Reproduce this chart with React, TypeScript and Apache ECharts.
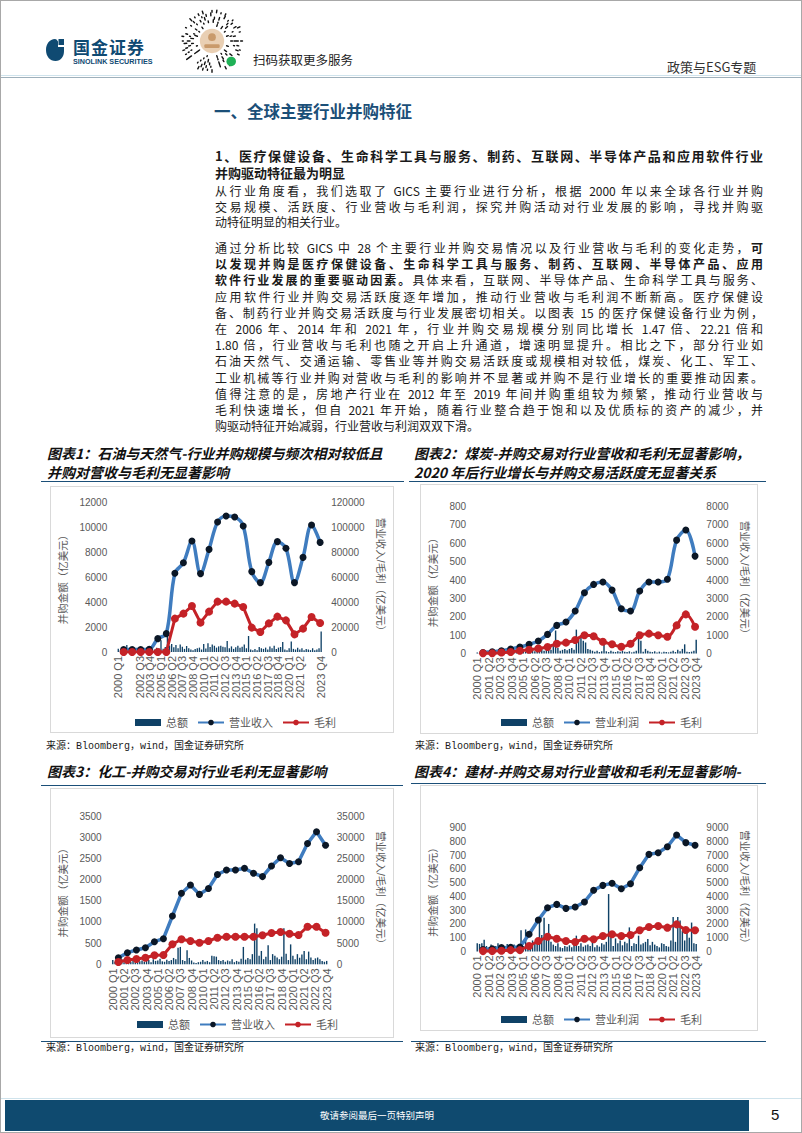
import React, { useEffect, useRef } from "react";
import * as echarts from "echarts";

// ---------------- DATA ----------------
const years = ["2000","2001","2002","2003","2004","2005","2006","2007","2008","2009","2010","2011","2012","2013","2014","2015","2016","2017","2018","2019","2020","2021","2022","2023"];
const quarterSuffix = ["Q1", "Q2", "Q3", "Q4"];
const quarters: string[] = years.flatMap((y) => quarterSuffix.map((q) => `${y} ${q}`));

const legendTotal = "总额";
const legendGross = "毛利";
const leftAxisName = "并购金额（亿美元）";
const rightAxisName = "营业收入/毛利（亿美元）";

// Chart 1: 石油与天然气
const oilTotal = [
  270,150,120,180, 560,200,150,220, 180,140,250,160, 200,300,160,250,
  280,200,350,300, 950,260,400,1450, 520,640,380,560, 300,600,420,250,
  480,300,200,150, 250,300,350,200, 650,280,700,400, 600,500,350,450,
  500,420,380,880, 300,450,250,380, 500,350,420,600, 300,1280,200,150,
  250,150,400,300, 250,350,200,450, 300,500,250,350, 400,800,200,150,
  300,850,250,200, 350,200,300,150, 250,200,150,300, 150,200,300,1650,
];
const oilRevenue = [2000,2000,2000,2200,10700,14700,63000,71400,88800,62700,82100,104000,108800,108000,100800,64300,55500,71700,88300,83000,55500,75700,101600,87700];
const oilGross = [0,0,0,0,0,0,26700,30700,36800,23500,32300,40300,40300,38700,36000,19500,16000,22900,28300,25300,14100,18700,28000,23200];

// Chart 2: 煤炭
const coalTotal = [
  5,3,8,4, 6,10,4,8, 15,5,10,8, 12,20,10,15,
  10,15,20,12, 18,10,25,15, 20,12,30,18, 25,15,35,28,
  20,40,125,30, 15,20,25,18, 25,30,20,130, 90,100,70,60,
  25,20,15,10, 15,8,12,50, 12,8,15,10, 8,12,10,15,
  10,8,12,6, 10,15,120,70, 10,25,15,10, 8,12,6,10,
  5,10,8,6, 10,15,8,20, 12,25,50,10, 8,10,15,75,
];
const coalProfit = [50,100,150,245,354,500,680,1040,1530,1710,2310,3310,3760,3890,3450,2440,2310,3400,3890,3890,4040,6170,6720,5300];
const coalGross = [10,10,50,80,150,200,270,354,535,590,735,990,935,640,500,370,535,990,1080,990,915,1530,2130,1460];

// Chart 3: 化工
const chemTotal = [
  100,60,80,50, 120,50,70,90, 60,80,50,110, 70,90,60,80,
  100,50,120,80, 90,130,70,60, 110,80,100,150, 120,390,410,100,
  80,330,150,90, 40,30,50,60, 100,60,80,50, 200,190,180,100,
  80,100,60,90, 70,120,50,80, 60,130,410,110, 150,120,240,960,
  850,200,315,120, 180,450,100,240, 200,160,120,180, 850,250,100,470,
  200,120,240,155, 230,315,120,300, 160,100,140,160, 120,80,60,80,
];
const chemRevenue = [1560,2740,3380,3920,5340,6050,11400,16760,18700,16500,17900,21200,22250,22250,22650,21500,20700,23200,25150,23800,24200,28500,31300,28100];
const chemGross = [540,1010,1250,1560,2120,2200,4720,5900,5500,5100,5500,6280,6510,6510,6510,6510,6840,7390,7620,7220,6910,8870,8870,7460];

// Chart 4: 建材
const buildTotal = [
  60,55,60,85, 40,30,50,25, 40,60,35,45, 40,55,40,30,
  50,40,35,155, 40,160,30,50, 80,60,100,240, 120,245,90,200,
  70,50,40,60, 30,25,40,35, 45,30,50,115, 40,60,35,45,
  50,40,80,30, 45,35,60,50, 70,417,100,40, 95,60,80,45,
  70,60,175,40, 60,55,115,50, 60,70,90,45, 70,50,40,30,
  60,55,40,35, 80,250,70,250, 225,150,80,157, 100,210,60,55,
];
const buildProfit = [150,200,280,300,330,1250,2290,3180,3420,3130,3230,3590,4440,4800,4950,4560,4920,6080,7050,7170,7600,8460,7900,7710];
const buildGross = [30,30,50,100,100,400,760,1070,930,760,690,930,885,1125,1250,1125,1200,1540,1780,1850,1730,1970,1560,1540];

// ---------------- STYLE ----------------
const FONT_CJK = "'Noto Sans CJK SC', 'Noto Sans', sans-serif";
const FONT_CHART = "'Liberation Sans', Arial, 'Noto Sans CJK SC', sans-serif";
const BAR = "#0f4166";
const BLUE = "#3f7cbf";
const DOT = "#0b1726";
const RED = "#c42227";
const AXIS_TXT = "#595959";
const NAVY = "#1b4f78";

type Spec = {
  box: [number, number, number, number];
  grid: [number, number, number, number];
  leftMax: number; leftInterval: number; rightMax: number; rightInterval: number;
  total: number[]; line: number[]; gross: number[]; lineName: string;
  smoothLine: number | boolean; smoothGross: number | boolean;
  legendLeft: number; legendTop: number;
  leftNameGap: number; rightNameGap: number;
};

const plain = (v: number) => String(v);

function buildOption(s: Spec): any {
  const axisCommon = {
    splitLine: { show: false },
    axisLine: { show: false },
    axisTick: { show: false },
  };
  return {
    animation: false,
    textStyle: { fontFamily: FONT_CHART },
    grid: { left: s.grid[0], top: s.grid[1], width: s.grid[2], height: s.grid[3], containLabel: false },
    legend: {
      left: s.legendLeft,
      top: s.legendTop,
      itemWidth: 26,
      itemHeight: 7,
      itemGap: 9,
      textStyle: { fontSize: 11, color: AXIS_TXT, fontFamily: FONT_CHART },
      data: [{ name: legendTotal, icon: "rect" }, s.lineName, legendGross],
    },
    xAxis: [
      {
        type: "category",
        data: quarters,
        boundaryGap: true,
        axisLine: { show: false },
        axisTick: { show: false },
        axisLabel: { interval: 4, rotate: 90, fontSize: 11, color: AXIS_TXT, margin: 4, showMinLabel: true, showMaxLabel: true, hideOverlap: false },
      },
      { type: "value", min: -0.75, max: 23.25, show: false },
    ],
    yAxis: [
      {
        type: "value",
        min: 0,
        max: s.leftMax,
        interval: s.leftInterval,
        name: leftAxisName,
        nameLocation: "middle",
        nameGap: s.leftNameGap,
        nameRotate: 90,
        nameTextStyle: { fontSize: 10.5, color: AXIS_TXT },
        axisLabel: { fontSize: 10, color: AXIS_TXT, margin: 10, formatter: plain },
        ...axisCommon,
      },
      {
        type: "value",
        position: "right",
        min: 0,
        max: s.rightMax,
        interval: s.rightInterval,
        name: rightAxisName,
        nameLocation: "middle",
        nameGap: s.rightNameGap,
        nameRotate: -90,
        nameTextStyle: { fontSize: 10.5, color: AXIS_TXT },
        axisLabel: { fontSize: 10, color: AXIS_TXT, margin: 9, formatter: plain },
        ...axisCommon,
      },
    ],
    series: [
      {
        name: legendTotal,
        type: "bar",
        xAxisIndex: 0,
        yAxisIndex: 0,
        data: s.total,
        barWidth: "62%",
        itemStyle: { color: BAR },
        z: 1,
      },
      {
        name: s.lineName,
        type: "line",
        xAxisIndex: 1,
        yAxisIndex: 1,
        data: s.line.map((v, i) => [i, v]),
        smooth: s.smoothLine,
        symbol: "circle",
        symbolSize: 7,
        lineStyle: { width: 3.5, color: BLUE },
        itemStyle: { color: DOT },
        z: 3,
      },
      {
        name: legendGross,
        type: "line",
        xAxisIndex: 1,
        yAxisIndex: 1,
        data: s.gross.map((v, i) => [i, v]),
        smooth: s.smoothGross,
        symbol: "circle",
        symbolSize: 8,
        lineStyle: { width: 3, color: RED },
        itemStyle: { color: RED },
        z: 4,
      },
    ],
  };
}

const specs: Spec[] = [
  {
    box: [49, 485, 344, 247],
    grid: [52, 16, 236, 150],
    leftMax: 12000, leftInterval: 2000, rightMax: 120000, rightInterval: 20000,
    total: oilTotal, line: oilRevenue, gross: oilGross, lineName: "营业收入",
    smoothLine: 0.35, smoothGross: false,
    legendLeft: 80, legendTop: 226, leftNameGap: 37, rightNameGap: 42,
  },
  {
    box: [419, 483, 338, 250],
    grid: [47, 22.5, 236.5, 147],
    leftMax: 800, leftInterval: 100, rightMax: 8000, rightInterval: 1000,
    total: coalTotal, line: coalProfit, gross: coalGross, lineName: "营业利润",
    smoothLine: 0.35, smoothGross: 0.35,
    legendLeft: 76, legendTop: 228, leftNameGap: 30, rightNameGap: 34,
  },
  {
    box: [49, 787, 344, 250],
    grid: [50.5, 28, 243.5, 148.3],
    leftMax: 3500, leftInterval: 500, rightMax: 35000, rightInterval: 5000,
    total: chemTotal, line: chemRevenue, gross: chemGross, lineName: "营业收入",
    smoothLine: false, smoothGross: false,
    legendLeft: 82, legendTop: 226, leftNameGap: 33, rightNameGap: 38,
  },
  {
    box: [419, 784, 338, 246],
    grid: [51.5, 42.5, 232.5, 124],
    leftMax: 900, leftInterval: 100, rightMax: 9000, rightInterval: 1000,
    total: buildTotal, line: buildProfit, gross: buildGross, lineName: "营业利润",
    smoothLine: false, smoothGross: false,
    legendLeft: 76, legendTop: 224, leftNameGap: 34, rightNameGap: 36,
  },
];

function Chart({ spec }: { spec: Spec }) {
  const ref = useRef<HTMLDivElement>(null);
  useEffect(() => {
    if (!ref.current) return;
    const chart = echarts.init(ref.current, undefined, { renderer: "svg" });
    chart.setOption(buildOption(spec));
    return () => chart.dispose();
  }, [spec]);
  const [l, t, w, h] = spec.box;
  return (
    <>
      <div style={{ position: "absolute", left: l, top: t, width: w, height: h, boxSizing: "border-box", border: "1px solid #d9d9d9" }} />
      <div ref={ref} style={{ position: "absolute", left: l, top: t, width: w, height: h }} />
    </>
  );
}

function MiniCode() {
  const items: React.ReactNode[] = [];
  for (let ring = 0; ring < 5; ring++) {
    const r = 24 + ring * 5.2;
    const n = 20 + ring * 5;
    for (let k = 0; k < n; k++) {
      if ((k * 7 + ring * 3) % 5 === 0 || (k * 3 + ring) % 7 === 0) continue;
      const a = (k / n) * Math.PI * 2;
      const len = 1.5 + ((k * 13 + ring) % 3) * 1.3;
      items.push(
        <line key={`${ring}-${k}`}
          x1={50 + Math.cos(a) * r} y1={50 + Math.sin(a) * r}
          x2={50 + Math.cos(a) * (r + len)} y2={50 + Math.sin(a) * (r + len)}
          stroke="#111" strokeWidth={2.2} strokeLinecap="round" />
      );
    }
  }
  return (
    <svg viewBox="0 0 100 100" width={64} height={64}
      style={{ position: "absolute", left: 179, top: 8 }}>
      {items}
      <circle cx={50} cy={50} r={19} fill="#e9cfb3" />
      <circle cx={50} cy={44} r={6} fill="#c99a6b" />
      <rect x={38} y={55} width={24} height={6} rx={2} fill="#c99a6b" />
      <circle cx={80} cy={82} r={7.5} fill="#1fb156" />
    </svg>
  );
}

const textBase: React.CSSProperties = {
  position: "absolute",
  fontFamily: FONT_CJK,
  color: "#1a1a1a",
  whiteSpace: "normal",
};

function JLine({ top, children, last, size = 12, lh = 16, bold = false }: any) {
  return (
    <div style={{
      ...textBase, left: 214, top, width: 548, height: lh, fontSize: size, lineHeight: `${lh}px`,
      textAlign: "justify", textAlignLast: last ? "left" : "justify", fontWeight: bold ? 700 : 400,
    }}>{children}</div>
  );
}

const subLines = [
  "1、医疗保健设备、生命科学工具与服务、制药、互联网、半导体产品和应用软件行业",
  "并购驱动特征最为明显",
];
const para1 = [
  "从行业角度看，我们选取了 GICS 主要行业进行分析，根据 2000 年以来全球各行业并购",
  "交易规模、活跃度、行业营收与毛利润，探究并购活动对行业发展的影响，寻找并购驱",
  "动特征明显的相关行业。",
];
const para2: React.ReactNode[] = [
  <>通过分析比较 GICS 中 28 个主要行业并购交易情况以及行业营收与毛利的变化走势，<b>可</b></>,
  <b>以发现并购是医疗保健设备、生命科学工具与服务、制药、互联网、半导体产品、应用</b>,
  <><b>软件行业发展的重要驱动因素。</b>具体来看，互联网、半导体产品、生命科学工具与服务、</>,
  "应用软件行业并购交易活跃度逐年增加，推动行业营收与毛利润不断新高。医疗保健设",
  "备、制药行业并购交易活跃度与行业发展密切相关。以图表 15 的医疗保健设备行业为例，",
  "在 2006 年、2014 年和 2021 年，行业并购交易规模分别同比增长 1.47 倍、22.21 倍和",
  "1.80 倍，行业营收与毛利也随之开启上升通道，增速明显提升。相比之下，部分行业如",
  "石油天然气、交通运输、零售业等并购交易活跃度或规模相对较低，煤炭、化工、军工、",
  "工业机械等行业并购对营收与毛利的影响并不显著或并购不是行业增长的重要推动因素。",
  "值得注意的是，房地产行业在 2012 年至 2019 年间并购重组较为频繁，推动行业营收与",
  "毛利快速增长，但自 2021 年开始，随着行业整合趋于饱和以及优质标的资产的减少，并",
  "购驱动特征开始减弱，行业营收与利润双双下滑。",
];

const titles = [
  { left: 46, top: 443, lines: ["图表1：石油与天然气-行业并购规模与频次相对较低且", "并购对营收与毛利无显著影响"] },
  { left: 413, top: 443, lines: ["图表2：煤炭-并购交易对行业营收和毛利无显著影响，", "2020 年后行业增长与并购交易活跃度无显著关系"] },
  { left: 46, top: 761, lines: ["图表3：化工-并购交易对行业毛利无显著影响"] },
  { left: 413, top: 761, lines: ["图表4：建材-并购交易对行业营收和毛利无显著影响-"] },
];
const sourceText = "来源：Bloomberg，wind，国金证券研究所";

export default function App() {
  return (
    <div style={{ position: "absolute", left: 0, top: 0, width: 802, height: 1133, background: "#fff", overflow: "hidden", boxSizing: "border-box", border: "1px solid #a8a8a8" }}>
      {/* Header */}
      <svg width={20} height={24} style={{ position: "absolute", left: 44, top: 37 }} viewBox="0 0 20 24">
        <path d="M10 1 C4.5 1 1 6 1 12 C1 18.5 5 23 10.5 23 C16 23 19 18.5 19 13 L19 9 L13 9 L13 3.5 C12 1.8 11 1 10 1 Z" fill="#0f4a72" />
        <rect x="13.5" y="1" width="5.5" height="6" fill="#0f4a72" />
      </svg>
      <div style={{ ...textBase, left: 72, top: 36, fontSize: 17, fontWeight: 700, color: "#0f4a72", letterSpacing: 1, lineHeight: "20px" }}>国金证券</div>
      <div style={{ ...textBase, left: 72, top: 56, fontSize: 7.2, fontWeight: 700, color: "#0f4a72", lineHeight: "9px", fontFamily: "'Liberation Sans', Arial, sans-serif" }}>SINOLINK SECURITIES</div>
      <MiniCode />
      <div style={{ ...textBase, left: 252, top: 50, fontSize: 12.5, lineHeight: "17px", color: "#222" }}>扫码获取更多服务</div>
      <div style={{ ...textBase, left: 666, top: 57, fontSize: 13, lineHeight: "17px", color: "#333" }}>政策与ESG专题</div>
      <div style={{ position: "absolute", left: 0, top: 74, width: 802, height: 1, background: "#cfe3ec" }} />
      <div style={{ position: "absolute", left: 0, top: 75.5, width: 802, height: 1.5, background: "#9fb0bb" }} />

      {/* Heading */}
      <div style={{ ...textBase, left: 213, top: 100, fontSize: 16.5, fontWeight: 700, color: NAVY, lineHeight: "21px" }}>一、全球主要行业并购特征</div>
      {subLines.map((s, i) => (
        <JLine key={"s" + i} top={145.5 + i * 17} size={13} lh={17} bold last={i === subLines.length - 1}>{s}</JLine>
      ))}
      {para1.map((s, i) => (
        <JLine key={"p1" + i} top={182 + i * 15.5} size={12} lh={15.5} last={i === para1.length - 1}>{s}</JLine>
      ))}
      {para2.map((s, i) => (
        <JLine key={"p2" + i} top={239 + i * 16.2} size={12} lh={16.2} last={i === para2.length - 1}>{s}</JLine>
      ))}

      {/* Chart titles */}
      {titles.map((t, i) => (
        <div key={"t" + i} style={{ ...textBase, left: t.left, top: t.top, fontSize: 14, fontWeight: 700, fontStyle: "italic", lineHeight: "19px", color: "#111" }}>
          {t.lines.map((l, j) => <div key={j}>{l}</div>)}
        </div>
      ))}
      <div style={{ position: "absolute", left: 40, top: 480, width: 363, height: 1.3, background: NAVY }} />
      <div style={{ position: "absolute", left: 408, top: 480, width: 357, height: 1.3, background: NAVY }} />
      <div style={{ position: "absolute", left: 40, top: 783.5, width: 362, height: 1.3, background: NAVY }} />
      <div style={{ position: "absolute", left: 410, top: 781.5, width: 355, height: 1.3, background: NAVY }} />

      {specs.map((s, i) => <Chart key={i} spec={s} />)}

      {/* Sources */}
      <div style={{ ...textBase, left: 45, top: 739, fontSize: 10, lineHeight: "13px", fontFamily: "'Liberation Mono', 'Noto Sans CJK SC', monospace" }}>{sourceText}</div>
      <div style={{ ...textBase, left: 414, top: 739, fontSize: 10, lineHeight: "13px", fontFamily: "'Liberation Mono', 'Noto Sans CJK SC', monospace" }}>{sourceText}</div>
      <div style={{ position: "absolute", left: 40, top: 1040, width: 362, height: 1, background: NAVY }} />
      <div style={{ position: "absolute", left: 410, top: 1040, width: 355, height: 1, background: NAVY }} />
      <div style={{ ...textBase, left: 45, top: 1041, fontSize: 10, lineHeight: "13px", fontFamily: "'Liberation Mono', 'Noto Sans CJK SC', monospace" }}>{sourceText}</div>
      <div style={{ ...textBase, left: 414, top: 1041, fontSize: 10, lineHeight: "13px", fontFamily: "'Liberation Mono', 'Noto Sans CJK SC', monospace" }}>{sourceText}</div>

      {/* Footer */}
      <div style={{ position: "absolute", left: 0, top: 1096.5, width: 802, height: 1, background: "#cfe3ec" }} />
      <div style={{ position: "absolute", left: 4, top: 1099, width: 744, height: 31, background: "#0f4a6f" }} />
      <div style={{ ...textBase, left: 4, top: 1107, width: 744, textAlign: "center", fontSize: 9.5, lineHeight: "14px", color: "#fff" }}>敬请参阅最后一页特别声明</div>
      <div style={{ ...textBase, left: 770, top: 1104, fontSize: 15, lineHeight: "20px", color: "#111", fontFamily: "'Liberation Sans', Arial, sans-serif" }}>5</div>
    </div>
  );
}
